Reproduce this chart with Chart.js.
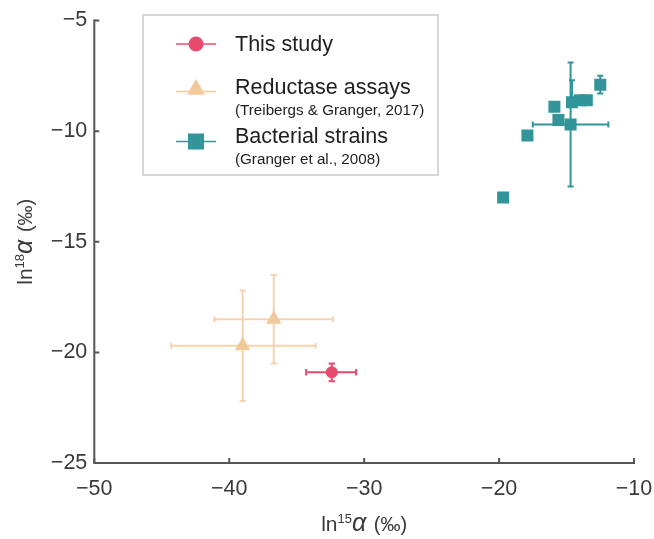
<!DOCTYPE html>
<html><head><meta charset="utf-8">
<script src="https://cdn.jsdelivr.net/npm/chart.js@4.4.0/dist/chart.umd.min.js"></script>
<style>html,body{margin:0;padding:0;background:#fff;} #wrap{width:654px;height:539px;position:relative;}</style>
</head><body><div id="wrap"><canvas id="c" width="654" height="539"></canvas></div>
<script>
const xTickValues = [-50, -40, -30, -20, -10];
const xTickLabels = ['−50', '−40', '−30', '−20', '−10'];
const yTickValues = [-25, -20, -15, -10, -5];
const yTickLabels = ['−25', '−20', '−15', '−10', '−5'];

const seriesNames = ['This study', 'Reductase assays', 'Bacterial strains'];
const seriesRefs = ['', '(Treibergs & Granger, 2017)', '(Granger et al., 2008)'];

const xTitleParts = ['ln', '15', 'α', ' (‰)'];
const yTitleParts = ['ln', '18', 'α', ' (‰)'];

// This study
const studyX = [-32.4];
const studyY = [-20.9];
const studyXLow = [-34.3];
const studyXHigh = [-30.6];
const studyYLow = [-21.3];
const studyYHigh = [-20.5];

// Reductase assays
const reductaseX = [-36.7, -39.0];
const reductaseY = [-18.5, -19.7];
const reductaseXLow = [-41.1, -44.3];
const reductaseXHigh = [-32.3, -33.6];
const reductaseYLow = [-20.5, -22.2];
const reductaseYHigh = [-16.5, -17.2];

// Bacterial strains
const strainX = [-19.7, -17.9, -15.6, -15.9, -14.7, -14.6, -14.0, -13.5, -12.5];
const strainY = [-13.0, -10.2, -9.5, -8.9, -9.7, -8.7, -8.6, -8.6, -7.9];
const strainXLow = [null, null, null, null, -17.5, null, null, null, null];
const strainXHigh = [null, null, null, null, -11.9, null, null, null, null];
const strainYLow = [null, null, null, null, -12.5, -8.9, null, null, -8.3];
const strainYHigh = [null, null, null, null, -6.9, -7.7, null, null, -7.5];

const FONT = '"Liberation Sans", Arial, Helvetica, sans-serif';
const colStudy = '#E64B6E';
const colReduct = '#F3C99C';
const colReductErr = '#F6D3AE';
const colStrain = '#31959A';
const axisColor = '#555555';
const textColor = '#3a3a3a';

function pts(xs, ys) { return xs.map((x, i) => ({x: x, y: ys[i]})); }

const datasets = [
  {label: seriesNames[0], data: pts(studyX, studyY), pointStyle: 'circle', pointRadius: 6,
   backgroundColor: colStudy, borderColor: colStudy, borderWidth: 0,
   err: {xl: studyXLow, xh: studyXHigh, yl: studyYLow, yh: studyYHigh, color: colStudy, width: 2, cap: 3.2}},
  {label: seriesNames[1], data: pts(reductaseX, reductaseY), pointStyle: 'triangle', pointRadius: 9,
   backgroundColor: colReduct, borderColor: colReduct, borderWidth: 0,
   err: {xl: reductaseXLow, xh: reductaseXHigh, yl: reductaseYLow, yh: reductaseYHigh, color: colReductErr, width: 2, cap: 3}},
  {label: seriesNames[2], data: pts(strainX, strainY), pointStyle: 'rect', pointRadius: 8.5,
   backgroundColor: colStrain, borderColor: colStrain, borderWidth: 0,
   err: {xl: strainXLow, xh: strainXHigh, yl: strainYLow, yh: strainYHigh, color: colStrain, width: 2, cap: 3}}
];

const errorBarPlugin = {
  id: 'errorBars',
  beforeDatasetsDraw(chart) {
    const ctx = chart.ctx, xs = chart.scales.x, ys = chart.scales.y;
    ctx.save();
    chart.data.datasets.forEach(ds => {
      const e = ds.err; if (!e) return;
      ctx.strokeStyle = e.color; ctx.lineWidth = e.width; ctx.lineCap = 'butt';
      ds.data.forEach((p, i) => {
        const px = xs.getPixelForValue(p.x), py = ys.getPixelForValue(p.y);
        ctx.beginPath();
        if (e.xl[i] != null && e.xh[i] != null) {
          const a = xs.getPixelForValue(e.xl[i]), b = xs.getPixelForValue(e.xh[i]);
          ctx.moveTo(a, py); ctx.lineTo(b, py);
          ctx.moveTo(a, py - e.cap); ctx.lineTo(a, py + e.cap);
          ctx.moveTo(b, py - e.cap); ctx.lineTo(b, py + e.cap);
        }
        if (e.yl[i] != null && e.yh[i] != null) {
          const a = ys.getPixelForValue(e.yl[i]), b = ys.getPixelForValue(e.yh[i]);
          ctx.moveTo(px, a); ctx.lineTo(px, b);
          ctx.moveTo(px - e.cap, a); ctx.lineTo(px + e.cap, a);
          ctx.moveTo(px - e.cap, b); ctx.lineTo(px + e.cap, b);
        }
        ctx.stroke();
      });
    });
    ctx.restore();
  }
};

function drawRich(ctx, parts, cx, baseline) {
  let total = 0;
  parts.forEach(p => { ctx.font = p.font; p.w = ctx.measureText(p.text).width; total += p.w + (p.gap || 0); });
  let x = cx - total / 2;
  ctx.textAlign = 'left'; ctx.textBaseline = 'alphabetic';
  parts.forEach(p => { ctx.font = p.font; ctx.fillText(p.text, x, baseline + (p.dy || 0)); x += p.w + (p.gap || 0); });
}
function titleParts(arr) {
  return [
    {text: arr[0], font: '21px ' + FONT},
    {text: arr[1], font: '13px ' + FONT, dy: -8},
    {text: arr[2], font: 'italic 25px ' + FONT, gap: 2},
    {text: arr[3], font: '20px ' + FONT}
  ];
}

function drawMarker(ctx, style, x, y, size, color) {
  ctx.fillStyle = color;
  ctx.beginPath();
  if (style === 'circle') { ctx.arc(x, y, size, 0, Math.PI * 2); }
  else if (style === 'triangle') {
    for (let k = 0; k < 3; k++) {
      const r = k * 2 * Math.PI / 3;
      const vx = x + Math.sin(r) * size, vy = y - Math.cos(r) * size;
      if (k === 0) ctx.moveTo(vx, vy); else ctx.lineTo(vx, vy);
    }
    ctx.closePath();
  } else { ctx.rect(x - size, y - size, size * 2, size * 2); }
  ctx.fill();
}

const decorPlugin = {
  id: 'decor',
  afterDraw(chart) {
    const ctx = chart.ctx, ca = chart.chartArea, xs = chart.scales.x, ys = chart.scales.y;
    ctx.save();
    // axes
    ctx.strokeStyle = axisColor; ctx.lineWidth = 2; ctx.lineCap = 'square';
    ctx.beginPath();
    ctx.moveTo(ca.left, ca.top); ctx.lineTo(ca.left, ca.bottom); ctx.lineTo(ca.right, ca.bottom);
    ctx.stroke();
    ctx.lineCap = 'butt';
    ctx.beginPath();
    xTickValues.forEach(v => { const px = xs.getPixelForValue(v); ctx.moveTo(px, ca.bottom); ctx.lineTo(px, ca.bottom - 5); });
    yTickValues.forEach(v => { const py = ys.getPixelForValue(v); ctx.moveTo(ca.left, py); ctx.lineTo(ca.left + 5, py); });
    ctx.stroke();
    // axis titles
    ctx.fillStyle = textColor;
    drawRich(ctx, titleParts(xTitleParts), (ca.left + ca.right) / 2, 531);
    ctx.save();
    ctx.translate(32, (ca.top + ca.bottom) / 2);
    ctx.rotate(-Math.PI / 2);
    drawRich(ctx, titleParts(yTitleParts), 0, 0);
    ctx.restore();
    // legend
    const L = 143, T = 15, R = 438, B = 175;
    ctx.fillStyle = '#ffffff'; ctx.fillRect(L, T, R - L, B - T);
    ctx.strokeStyle = '#c9c9c9'; ctx.lineWidth = 1.5; ctx.strokeRect(L, T, R - L, B - T);
    const items = [
      {style: 'circle', size: 7.5, color: colStudy, lineColor: colStudy, my: 44, ty: 50.5, ry: null},
      {style: 'triangle', size: 10.5, color: colReduct, lineColor: colReduct, my: 91.5, ty: 93.5, ry: 115},
      {style: 'rect', size: 8, color: colStrain, lineColor: colStrain, my: 141.5, ty: 142.5, ry: 164}
    ];
    items.forEach((it, i) => {
      ctx.strokeStyle = it.lineColor; ctx.lineWidth = 1.5;
      ctx.beginPath(); ctx.moveTo(176, it.my); ctx.lineTo(216, it.my); ctx.stroke();
      drawMarker(ctx, it.style, 196, it.style === 'triangle' ? it.my - 2 : it.my, it.size, it.color);
      ctx.fillStyle = '#1e1e1e'; ctx.textAlign = 'left'; ctx.textBaseline = 'alphabetic';
      ctx.font = '21.5px ' + FONT;
      ctx.fillText(seriesNames[i], 235, it.ty);
      if (seriesRefs[i]) { ctx.font = '15.2px ' + FONT; ctx.fillText(seriesRefs[i], 235, it.ry); }
    });
    ctx.restore();
  }
};

new Chart(document.getElementById('c'), {
  type: 'scatter',
  data: {datasets: datasets},
  options: {
    responsive: false, animation: false, devicePixelRatio: 1, events: [],
    layout: {padding: {left: 0, top: 20.5, right: 20, bottom: 0}},
    plugins: {legend: {display: false}, tooltip: {enabled: false}},
    scales: {
      x: {type: 'linear', min: -50, max: -10,
          grid: {display: false, drawTicks: false}, border: {display: false},
          afterBuildTicks: s => { s.ticks = xTickValues.map(v => ({value: v})); },
          afterFit: s => { s.height = 76; s.paddingLeft = 0; s.paddingRight = 0; s.paddingTop = 0; s.paddingBottom = 0; },
          ticks: {autoSkip: false, maxRotation: 0, padding: 13, color: textColor, font: {size: 21.5, family: FONT},
                  callback: v => { const i = xTickValues.indexOf(v); return i >= 0 ? xTickLabels[i] : ''; }}},
      y: {type: 'linear', min: -25, max: -5,
          grid: {display: false, drawTicks: false}, border: {display: false},
          afterBuildTicks: s => { s.ticks = yTickValues.map(v => ({value: v})); },
          afterFit: s => { s.width = 94.3; s.paddingLeft = 0; s.paddingRight = 0; s.paddingTop = 0; s.paddingBottom = 0; },
          ticks: {autoSkip: false, padding: 7, color: textColor, font: {size: 21.5, family: FONT},
                  callback: v => { const i = yTickValues.indexOf(v); return i >= 0 ? yTickLabels[i] : ''; }}}
    }
  },
  plugins: [errorBarPlugin, decorPlugin]
});
</script></body></html>
